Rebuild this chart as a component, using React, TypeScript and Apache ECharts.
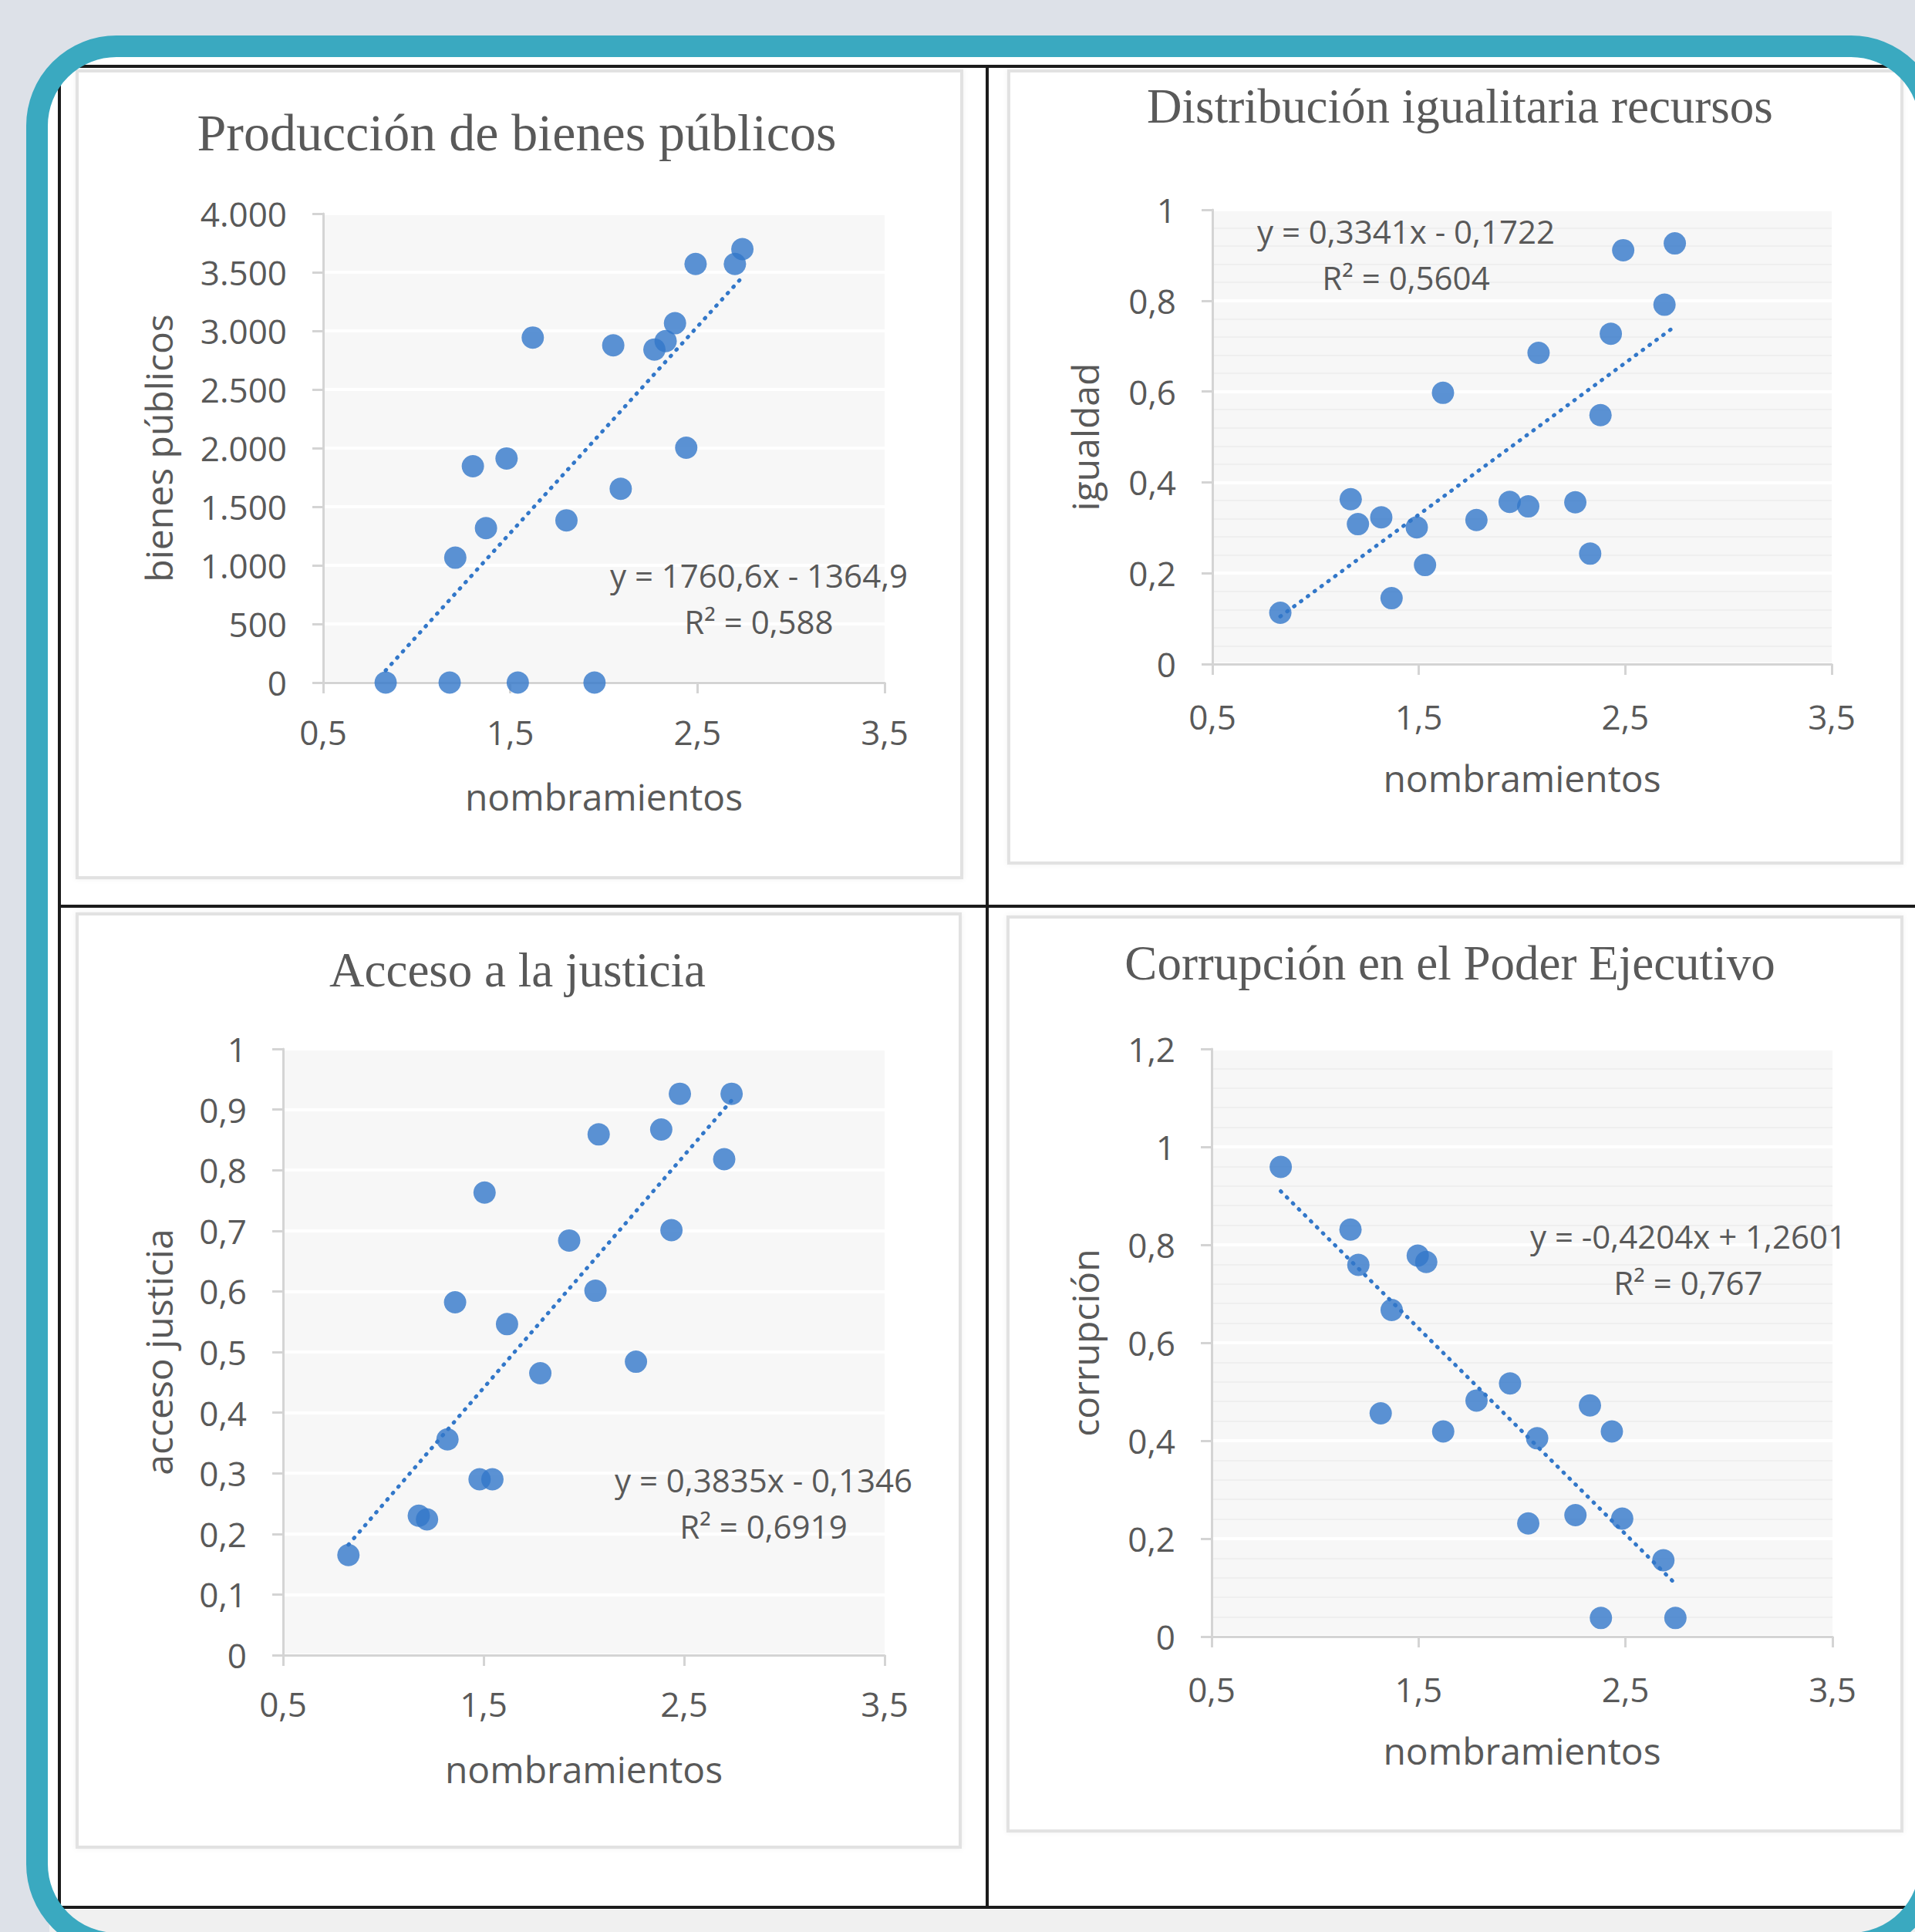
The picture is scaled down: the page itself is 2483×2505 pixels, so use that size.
import React, { useEffect, useRef } from "react";
import * as echarts from "echarts";

const PAGE_W = 2483;
const PAGE_H = 2505;

// ---- Data ----
const titles = [
  "Producción de bienes públicos",
  "Distribución igualitaria recursos",
  "Acceso a la justicia",
  "Corrupción en el Poder Ejecutivo",
];
const xAxisName = "nombramientos";
const yAxisNames = ["bienes públicos", "igualdad", "acceso justicia", "corrupción"];

const bienesX = [0.834, 1.176, 1.54, 1.95, 1.206, 1.37, 1.3, 1.48, 1.62, 1.8, 2.05, 2.09, 2.27, 2.33, 2.38, 2.44, 2.49, 2.7, 2.74];
const bienesY = [0, 0, 0, 0, 1065, 1317, 1845, 1912, 2943, 1384, 2877, 1653, 2841, 2913, 3065, 2003, 3571, 3571, 3697];

const igualdadX = [0.829, 1.17, 1.205, 1.318, 1.368, 1.49, 1.53, 1.617, 1.779, 1.94, 2.03, 2.08, 2.258, 2.33, 2.38, 2.43, 2.49, 2.69, 2.74];
const igualdadY = [0.113, 0.363, 0.308, 0.323, 0.145, 0.301, 0.218, 0.597, 0.317, 0.357, 0.347, 0.685, 0.356, 0.243, 0.548, 0.727, 0.911, 0.791, 0.926];

const justiciaX = [0.826, 1.177, 1.218, 1.32, 1.358, 1.48, 1.544, 1.505, 1.617, 1.783, 1.927, 2.058, 2.074, 2.26, 2.386, 2.437, 2.479, 2.7, 2.737];
const justiciaY = [0.165, 0.23, 0.224, 0.356, 0.582, 0.29, 0.29, 0.763, 0.546, 0.465, 0.684, 0.601, 0.859, 0.484, 0.867, 0.701, 0.926, 0.818, 0.926];

const corrupcionX = [0.834, 1.171, 1.209, 1.37, 1.317, 1.496, 1.537, 1.619, 1.78, 1.942, 2.03, 2.073, 2.258, 2.328, 2.381, 2.434, 2.484, 2.683, 2.741];
const corrupcionY = [0.959, 0.831, 0.759, 0.667, 0.456, 0.778, 0.765, 0.419, 0.482, 0.517, 0.231, 0.405, 0.248, 0.472, 0.038, 0.419, 0.241, 0.156, 0.038];

const trendSlopes = [1760.6, 0.3341, 0.3835, -0.4204];
const trendIntercepts = [-1364.9, -0.1722, -0.1346, 1.2601];
const equationLabels = [
  "y = 1760,6x - 1364,9",
  "y = 0,3341x - 0,1722",
  "y = 0,3835x - 0,1346",
  "y = -0,4204x + 1,2601",
];
const r2Labels = ["R² = 0,588", "R² = 0,5604", "R² = 0,6919", "R² = 0,767"];

const xMin = 0.5;
const xMax = 3.5;
const xStep = 1;
const yMaxes = [4000, 1, 1, 1.2];
const ySteps = [500, 0.2, 0.1, 0.2];
const minorGrid = [false, true, false, true];

// ---- Layout / style ----
const BLUE = "#3277c9";
const GRAY_TEXT = "#595959";
const AXIS_GRAY = "#d4d4d4";
const SANS = "'Open Sans', 'Noto Sans', sans-serif";
const SERIF = "'Liberation Serif', 'DejaVu Serif', serif";

const grids = [
  { left: 419, top: 277, width: 728, height: 608 },
  { left: 1572, top: 272, width: 803, height: 589 },
  { left: 367, top: 1360, width: 780, height: 786 },
  { left: 1571, top: 1360, width: 805, height: 762 },
];
const yNameGaps = [190, 142, 138, 141];
const xLabelMargins = [42, 46, 41, 46];
const titlePos = [
  { x: 670, y: 172, size: 68 },
  { x: 1893, y: 138, size: 63 },
  { x: 671, y: 1258, size: 63 },
  { x: 1880, y: 1249, size: 63 },
];
const eqPos = [
  { x: 984, y: 775 },
  { x: 1823, y: 329 },
  { x: 990, y: 1948 },
  { x: 2189, y: 1632 },
];
const boxes = [
  { x: 100, y: 92, w: 1147, h: 1046 },
  { x: 1308, y: 92, w: 1158, h: 1027 },
  { x: 100, y: 1185, w: 1145, h: 1210 },
  { x: 1307, y: 1189, w: 1159, h: 1185 },
];

const fmtThousands = (v: number) =>
  Math.round(v).toString().replace(/\B(?=(\d{3})+(?!\d))/g, ".");
const fmtDecimal = (v: number) => String(Math.round(v * 100) / 100).replace(".", ",");

function buildOption() {
  const xs = [bienesX, igualdadX, justiciaX, corrupcionX];
  const ys = [bienesY, igualdadY, justiciaY, corrupcionY];

  const xAxes: any[] = [];
  const yAxes: any[] = [];
  const series: any[] = [];
  const gridOpts: any[] = [];

  for (let i = 0; i < 4; i++) {
    const g = grids[i];
    gridOpts.push({
      left: g.left,
      top: g.top,
      width: g.width,
      height: g.height,
      show: true,
      backgroundColor: "#f7f7f7",
      borderWidth: 0,
    });
    xAxes.push({
      gridIndex: i,
      type: "value",
      min: xMin,
      max: xMax,
      interval: xStep,
      name: xAxisName,
      nameLocation: "middle",
      nameGap: 123,
      nameTextStyle: { fontFamily: SANS, fontSize: 48, color: GRAY_TEXT, lineHeight: 48 },
      axisLine: { show: true, onZero: false, lineStyle: { color: AXIS_GRAY, width: 3 } },
      axisTick: { show: true, length: 14, lineStyle: { color: AXIS_GRAY, width: 3 } },
      axisLabel: {
        fontFamily: SANS,
        fontSize: 44,
        color: GRAY_TEXT,
        margin: xLabelMargins[i],
        lineHeight: 44,
        formatter: (v: number) => fmtDecimal(v),
      },
      splitLine: { show: false },
    });
    yAxes.push({
      gridIndex: i,
      type: "value",
      min: 0,
      max: yMaxes[i],
      interval: ySteps[i],
      name: yAxisNames[i],
      nameLocation: "middle",
      nameGap: yNameGaps[i],
      nameTextStyle: { fontFamily: SANS, fontSize: 48, color: GRAY_TEXT, lineHeight: 48 },
      axisLine: { show: true, lineStyle: { color: AXIS_GRAY, width: 3 } },
      axisTick: { show: true, length: 14, lineStyle: { color: AXIS_GRAY, width: 3 } },
      axisLabel: {
        fontFamily: SANS,
        fontSize: 44,
        color: GRAY_TEXT,
        margin: 47,
        formatter: (v: number) => (i === 0 ? fmtThousands(v) : fmtDecimal(v)),
      },
      splitLine: { show: true, lineStyle: { color: "#ffffff", width: 4 } },
      minorTick: { show: false, splitNumber: 5 },
      minorSplitLine: { show: minorGrid[i], lineStyle: { color: "#ececec", width: 1.5 } },
    });

    const pts = xs[i].map((x, k) => [x, ys[i][k]]);
    series.push({
      type: "scatter",
      xAxisIndex: i,
      yAxisIndex: i,
      data: pts,
      symbol: "circle",
      symbolSize: 29,
      itemStyle: { color: BLUE },
      z: 3,
    });
    const lo = Math.min(...xs[i]);
    const hi = Math.max(...xs[i]);
    series.push({
      type: "line",
      xAxisIndex: i,
      yAxisIndex: i,
      data: [
        [lo, trendSlopes[i] * lo + trendIntercepts[i]],
        [hi, trendSlopes[i] * hi + trendIntercepts[i]],
      ],
      showSymbol: false,
      symbol: "none",
      lineStyle: { color: BLUE, width: 5, type: [1, 10], cap: "round" },
      z: 4,
      silent: true,
    });
  }

  const graphics: any[] = [];
  graphics.push({ type: "rect", z: -100, shape: { x: 0, y: 0, width: PAGE_W, height: PAGE_H }, style: { fill: "#dde1e8" } });
  graphics.push({ type: "rect", z: -99, shape: { x: 48, y: 60, width: 2455, height: 2460, r: 103 }, style: { fill: "#ffffff" } });
  graphics.push({ type: "rect", z: -98, shape: { x: 64, y: 2476, width: PAGE_W - 64, height: PAGE_H - 2476 }, style: { fill: "#f0f0f0" } });
  boxes.forEach((b) => {
    graphics.push({
      type: "rect",
      z: -97,
      shape: { x: b.x, y: b.y, width: b.w, height: b.h },
      style: { fill: "#ffffff", stroke: "#e2e2e2", lineWidth: 4, shadowBlur: 6, shadowColor: "rgba(0,0,0,0.06)" },
    });
  });
  const black = { stroke: "#1b1b1b", lineWidth: 4 };
  const lines = [
    [77, 86, PAGE_W, 86],
    [77, 2473, PAGE_W, 2473],
    [77, 86, 77, 2473],
    [1280, 86, 1280, 2473],
    [77, 1175, PAGE_W, 1175],
  ];
  lines.forEach((l) =>
    graphics.push({ type: "line", z: -96, shape: { x1: l[0], y1: l[1], x2: l[2], y2: l[3] }, style: black })
  );
  graphics.push({
    type: "rect",
    z: 100,
    shape: { x: 48, y: 60, width: 2455, height: 2460, r: 103 },
    style: { fill: "none", stroke: "#3aa9c0", lineWidth: 28 },
  });

  for (let i = 0; i < 4; i++) {
    graphics.push({
      type: "text",
      z: 50,
      style: {
        text: titles[i],
        x: titlePos[i].x,
        y: titlePos[i].y,
        textAlign: "center",
        textVerticalAlign: "middle",
        fontFamily: SERIF,
        fontSize: titlePos[i].size,
        fill: GRAY_TEXT,
      },
    });
    graphics.push({
      type: "text",
      z: 50,
      style: {
        text: equationLabels[i] + "\n" + r2Labels[i],
        x: eqPos[i].x,
        y: eqPos[i].y,
        textAlign: "center",
        textVerticalAlign: "middle",
        fontFamily: SANS,
        fontSize: 42,
        lineHeight: 60,
        fill: GRAY_TEXT,
      },
    });
  }

  return {
    animation: false,
    backgroundColor: "transparent",
    grid: gridOpts,
    xAxis: xAxes,
    yAxis: yAxes,
    series,
    graphic: { elements: graphics },
  };
}

export default function App() {
  const ref = useRef<HTMLDivElement>(null);
  useEffect(() => {
    if (!ref.current) return;
    const chart = echarts.init(ref.current, undefined, { renderer: "svg", width: PAGE_W, height: PAGE_H });
    chart.setOption(buildOption() as any);
    return () => chart.dispose();
  }, []);
  return (
    <div
      ref={ref}
      style={{ position: "absolute", left: 0, top: 0, width: PAGE_W, height: PAGE_H }}
    />
  );
}
